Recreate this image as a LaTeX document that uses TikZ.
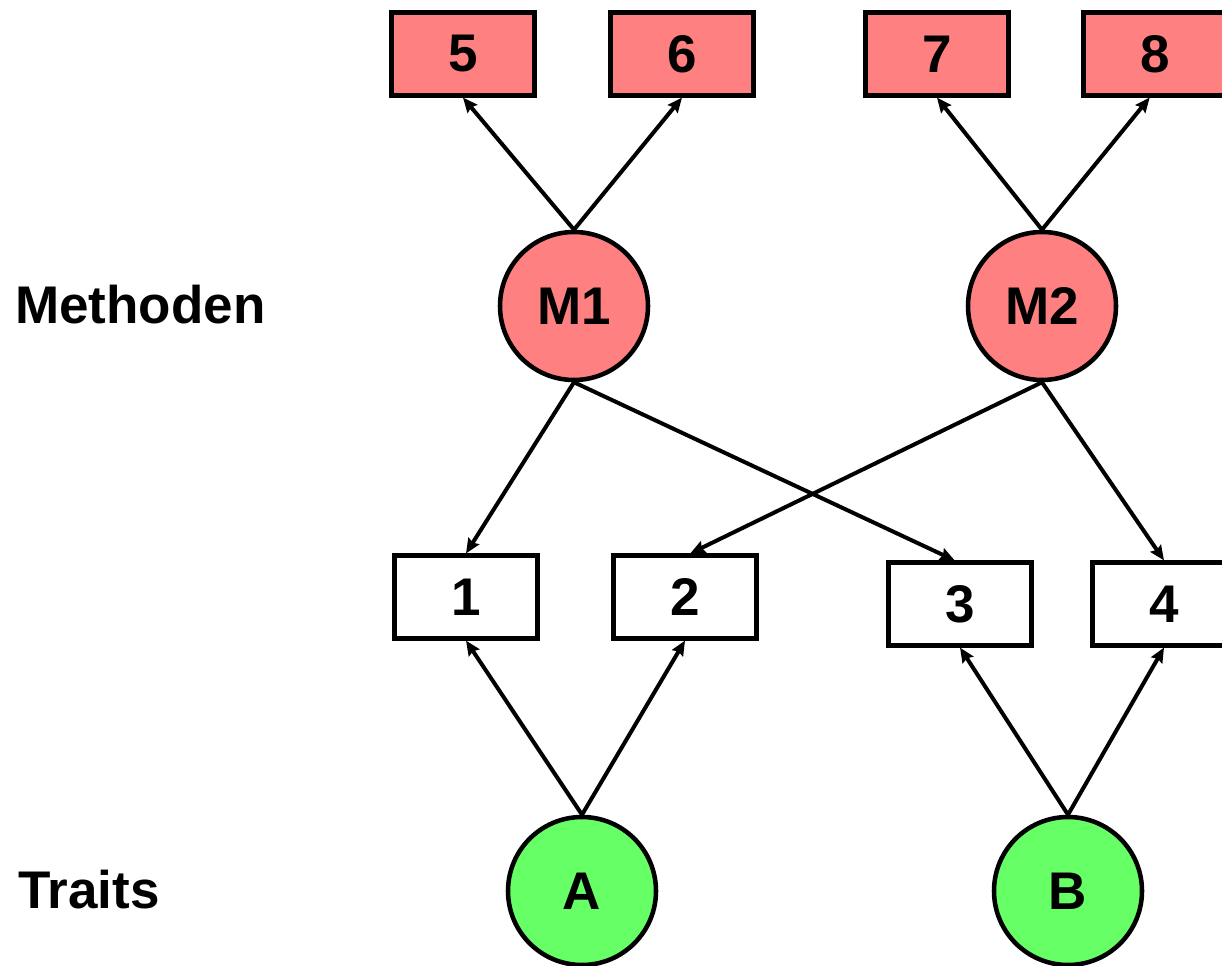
\documentclass[tikz,border=0pt]{standalone}
\usepackage{fontspec}
\setmainfont{Liberation Sans}
\usetikzlibrary{arrows.meta}
\definecolor{boxred}{RGB}{255,128,128}
\definecolor{circgreen}{RGB}{102,255,102}
\begin{document}
\begin{tikzpicture}[x=0.75pt,y=-0.75pt,
  every node/.style={font=\fontsize{39.75}{46}\selectfont\bfseries, inner sep=0pt},
  boxbase/.style={draw, line width=3.4pt, minimum width=107.5pt, minimum height=62pt},
  redbox/.style={boxbase, fill=boxred},
  whitebox/.style={boxbase, fill=white},
  circbase/.style={draw, circle, line width=3.4pt, minimum size=111pt},
  redcirc/.style={circbase, fill=boxred},
  greencirc/.style={circbase, fill=circgreen},
  conn/.style={line width=3pt, -{Stealth[length=11pt,width=9.5pt,inset=1.5pt]}},
  lbl/.style={anchor=west}]
\useasboundingbox (0,0) rectangle (1222,966);
\clip (0,0) rectangle (1222,966);
\node[redbox] (b5) at (463,54) {5};
\node[redbox] (b6) at (682,54) {6};
\node[redbox] (b7) at (937,54) {7};
\node[redbox] (b8) at (1155,54) {8};
\node[redcirc] (M1) at (574,306) {M1};
\node[redcirc] (M2) at (1042,306) {M2};
\node[whitebox] (b1) at (466,597) {1};
\node[whitebox] (b2) at (685,597) {2};
\node[whitebox] (b3) at (960,604) {3};
\node[whitebox] (b4) at (1164,604) {4};
\node[greencirc] (A) at (582,891) {A};
\node[greencirc] (B) at (1068,891) {B};
\node[lbl] (meth) at (15,305) {Methoden};
\node[lbl] (traits) at (18,890) {Traits};
\draw[conn] (M1.north) -- (b5.south);
\draw[conn] (M1.north) -- (b6.south);
\draw[conn] (M2.north) -- (b7.south);
\draw[conn] (M2.north) -- ([xshift=-4pt]b8.south);
\draw[conn] (M1.south) -- (b1.north);
\draw[conn] (M1.south) -- ([xshift=-4pt]b3.north);
\draw[conn] (M2.south) -- ([xshift=4pt]b2.north);
\draw[conn] (M2.south) -- (b4.north);
\draw[conn] (A.north) -- (b1.south);
\draw[conn] (A.north) -- (b2.south);
\draw[conn] (B.north) -- (b3.south);
\draw[conn] (B.north) -- (b4.south);
\end{tikzpicture}
\end{document}
